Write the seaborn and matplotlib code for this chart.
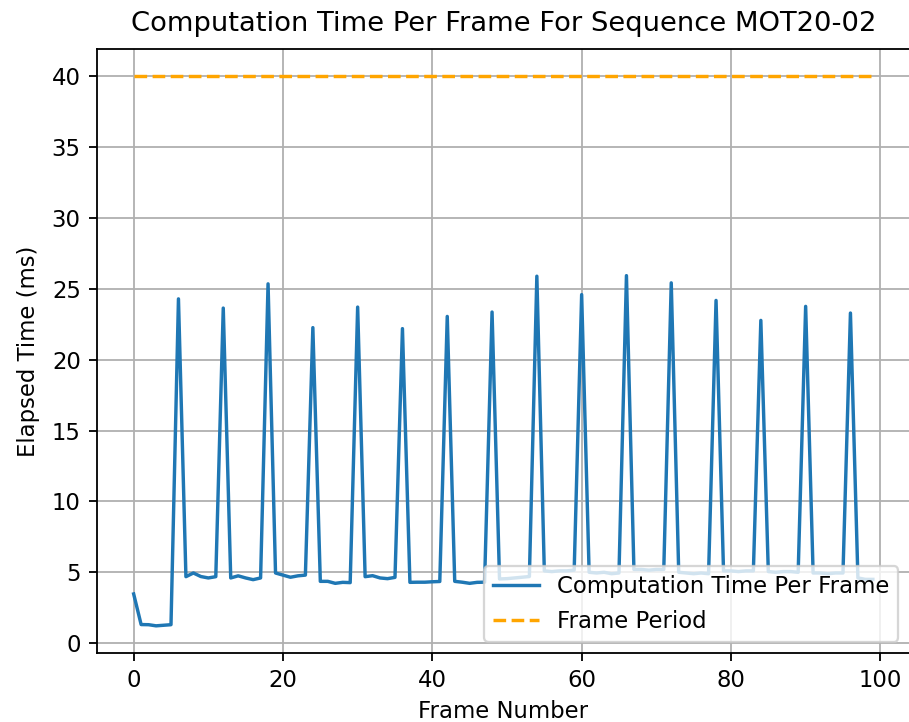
import numpy as np
import pandas as pd
import matplotlib
matplotlib.use("Agg")
import matplotlib.pyplot as plt
import seaborn as sns

frames = list(range(100))
computation_ms = [
    3.47, 1.31, 1.30, 1.22, 1.26, 1.30,
    24.30, 4.69, 4.95, 4.70, 4.60, 4.69,
    23.65, 4.60, 4.75, 4.60, 4.48, 4.60,
    25.36, 4.95, 4.80, 4.65, 4.75, 4.80,
    22.27, 4.36, 4.36, 4.22, 4.29, 4.27,
    23.72, 4.69, 4.76, 4.60, 4.55, 4.64,
    22.20, 4.29, 4.30, 4.30, 4.33, 4.35,
    23.06, 4.36, 4.30, 4.22, 4.29, 4.30,
    23.37, 4.53, 4.55, 4.60, 4.65, 4.70,
    25.90, 5.10, 5.05, 5.10, 5.10, 5.15,
    24.60, 5.00, 4.95, 5.00, 4.90, 4.95,
    25.94, 5.20, 5.20, 5.15, 5.20, 5.20,
    25.43, 5.00, 4.95, 4.90, 4.95, 4.90,
    24.19, 5.10, 5.10, 5.05, 5.10, 5.10,
    22.78, 5.05, 5.00, 5.05, 5.05, 5.00,
    23.77, 4.95, 4.95, 4.90, 4.95, 4.95,
    23.30, 4.60, 4.50, 4.50,
]
frame_period_ms = [40.0] * 100

title = "Computation Time Per Frame For Sequence MOT20-02"
xlabel = "Frame Number"
ylabel = "Elapsed Time (ms)"
label_comp = "Computation Time Per Frame"
label_period = "Frame Period"

df = pd.DataFrame({"frame": frames, "comp": computation_ms, "period": frame_period_ms})

DPI = 164
fig = plt.figure(figsize=(909 / DPI, 722 / DPI), dpi=DPI)
W, H = 909, 722
left, right, top, bottom = 96.7, 909.8, 49.0, 653.3
ax = fig.add_axes([left / W, (H - bottom) / H, (right - left) / W, (bottom - top) / H])

sns.lineplot(data=df, x="frame", y="comp", ax=ax, color="#1f77b4", linewidth=1.5, label=label_comp)
sns.lineplot(data=df, x="frame", y="period", ax=ax, color="orange", linestyle="--", linewidth=1.5, label=label_period)

ax.set_title(title, fontsize=12, pad=7.8)
ax.set_xlabel(xlabel, labelpad=3.5)
ax.set_ylabel(ylabel, labelpad=5)
ax.grid(True)
ax.set_xticks([0, 20, 40, 60, 80, 100])
ax.set_yticks([0, 5, 10, 15, 20, 25, 30, 35, 40])
ax.set_xlim(-4.95, 103.95)
ax.spines["right"].set_visible(False)
ax.legend(loc="lower right")

fig.savefig("out.png", dpi=DPI)
